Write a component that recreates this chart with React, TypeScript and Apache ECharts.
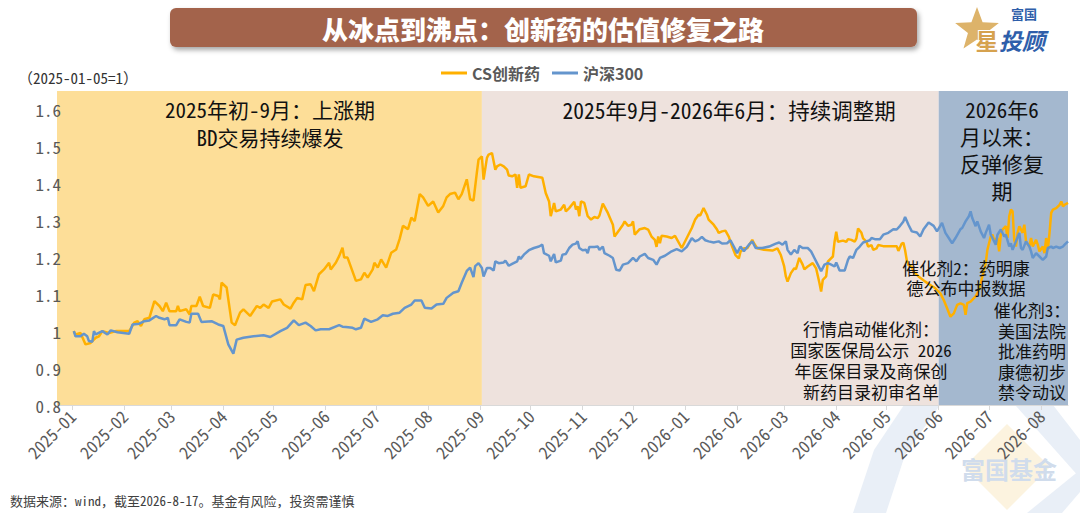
import React, { useEffect, useRef } from 'react';
import * as echarts from 'echarts';

// ---------- data ----------
const csDates = [
  '2025-01-02','2025-01-03','2025-01-06','2025-01-09','2025-01-12','2025-01-15','2025-01-17','2025-01-19','2025-01-23','2025-01-27',
  '2025-02-04','2025-02-07','2025-02-09','2025-02-11','2025-02-13','2025-02-16','2025-02-19','2025-02-22','2025-02-24','2025-02-26','2025-02-28',
  '2025-03-04','2025-03-05','2025-03-06','2025-03-10','2025-03-12','2025-03-13','2025-03-16','2025-03-18','2025-03-20','2025-03-24','2025-03-26','2025-03-29','2025-03-30','2025-03-31',
  '2025-04-03','2025-04-06','2025-04-08','2025-04-11','2025-04-13','2025-04-17','2025-04-21','2025-04-23','2025-04-25','2025-04-28','2025-04-30',
  '2025-05-05','2025-05-07','2025-05-11','2025-05-13','2025-05-15','2025-05-18','2025-05-20','2025-05-23','2025-05-25','2025-05-28','2025-05-31',
  '2025-06-03','2025-06-04','2025-06-07','2025-06-09','2025-06-11','2025-06-12','2025-06-14','2025-06-19','2025-06-22','2025-06-24','2025-06-26','2025-06-29','2025-06-30',
  '2025-07-02','2025-07-04','2025-07-07','2025-07-10','2025-07-13','2025-07-15','2025-07-17','2025-07-20','2025-07-22','2025-07-24','2025-07-27','2025-07-29',
  '2025-08-01','2025-08-04','2025-08-07','2025-08-10','2025-08-12','2025-08-14','2025-08-17','2025-08-19','2025-08-21','2025-08-24','2025-08-26','2025-08-28','2025-08-30','2025-08-31',
  '2025-09-02','2025-09-03','2025-09-05','2025-09-06','2025-09-08','2025-09-10','2025-09-11','2025-09-13','2025-09-15','2025-09-17','2025-09-18','2025-09-20','2025-09-22','2025-09-23','2025-09-24','2025-09-25','2025-09-28','2025-09-30',
  '2025-10-03','2025-10-08','2025-10-10','2025-10-12','2025-10-13','2025-10-15','2025-10-16','2025-10-19','2025-10-21','2025-10-22','2025-10-24','2025-10-27','2025-10-28','2025-10-29','2025-10-30','2025-10-31',
  '2025-11-02','2025-11-04','2025-11-06','2025-11-08','2025-11-10','2025-11-11','2025-11-13','2025-11-16','2025-11-19','2025-11-20','2025-11-23','2025-11-25','2025-11-26','2025-11-28','2025-11-30',
  '2025-12-01','2025-12-02','2025-12-05','2025-12-08','2025-12-10','2025-12-12','2025-12-14','2025-12-15','2025-12-16','2025-12-17','2025-12-18','2025-12-21','2025-12-24','2025-12-26','2025-12-30',
  '2026-01-02','2026-01-05','2026-01-07','2026-01-09','2026-01-10','2026-01-12','2026-01-14','2026-01-15','2026-01-18','2026-01-20','2026-01-21','2026-01-23','2026-01-25','2026-01-27','2026-01-29','2026-01-31',
  '2026-02-02','2026-02-03','2026-02-05','2026-02-07','2026-02-10','2026-02-11','2026-02-13','2026-02-17','2026-02-22','2026-02-25','2026-02-27',
  '2026-03-01','2026-03-02','2026-03-03','2026-03-05','2026-03-07','2026-03-08','2026-03-10','2026-03-12','2026-03-13','2026-03-15','2026-03-18','2026-03-20','2026-03-22','2026-03-23','2026-03-24','2026-03-26','2026-03-27','2026-03-28','2026-03-30','2026-03-31',
  '2026-04-01','2026-04-02','2026-04-05','2026-04-07','2026-04-08','2026-04-10','2026-04-12','2026-04-13','2026-04-14','2026-04-16','2026-04-17','2026-04-19','2026-04-20','2026-04-22','2026-04-23','2026-04-25','2026-04-26','2026-04-29',
  '2026-05-03','2026-05-07','2026-05-08','2026-05-10','2026-05-11','2026-05-12','2026-05-13','2026-05-14','2026-05-16','2026-05-17','2026-05-20','2026-05-24','2026-05-27','2026-05-30',
  '2026-06-02','2026-06-04','2026-06-06','2026-06-08','2026-06-10','2026-06-12','2026-06-14','2026-06-16','2026-06-17','2026-06-18','2026-06-20','2026-06-23','2026-06-25','2026-06-27','2026-06-29','2026-06-30',
  '2026-07-02','2026-07-03','2026-07-04','2026-07-06','2026-07-07','2026-07-08','2026-07-09','2026-07-11','2026-07-12','2026-07-13','2026-07-14','2026-07-15','2026-07-16','2026-07-17','2026-07-18','2026-07-19','2026-07-21','2026-07-22','2026-07-23','2026-07-25','2026-07-26','2026-07-27','2026-07-29','2026-07-30','2026-07-31',
  '2026-08-02','2026-08-03','2026-08-04','2026-08-05','2026-08-06','2026-08-07','2026-08-08','2026-08-10','2026-08-12','2026-08-13','2026-08-14','2026-08-15','2026-08-17',
];
const csValues = [
  1.000,0.991,0.995,0.964,0.968,0.982,0.986,1.000,0.995,1.000,
  1.000,1.023,1.027,1.014,1.032,1.036,1.081,1.068,1.054,1.077,1.054,
  1.054,1.068,1.054,1.059,1.045,1.068,1.068,1.093,1.068,1.063,1.099,1.095,1.086,1.131,
  1.118,1.023,1.016,1.050,1.059,1.041,1.068,1.063,1.072,1.063,1.080,
  1.086,1.072,1.061,1.077,1.090,1.086,1.125,1.127,1.108,1.154,1.167,
  1.185,1.167,1.185,1.203,1.226,1.199,1.199,1.136,1.140,1.158,1.145,1.167,1.185,
  1.172,1.194,1.172,1.212,1.221,1.249,1.285,1.276,1.307,1.298,1.371,1.362,
  1.339,1.351,1.321,1.339,1.362,1.371,1.375,1.357,1.371,1.411,1.357,1.353,1.429,1.464,
  1.473,1.410,1.469,1.478,1.482,1.437,1.446,1.451,1.446,1.437,1.421,1.419,1.424,1.388,1.424,1.388,1.392,1.424,
  1.419,1.415,1.374,1.351,1.311,1.347,1.324,1.329,1.342,1.324,1.333,1.350,1.329,1.338,1.311,1.351,
  1.347,1.311,1.302,1.309,1.306,1.313,1.345,1.320,1.288,1.256,1.275,1.288,1.297,1.285,1.288,
  1.297,1.261,1.276,1.279,1.275,1.256,1.247,1.228,1.256,1.238,1.258,1.256,1.252,1.258,1.225,
  1.252,1.279,1.302,1.315,1.313,1.333,1.315,1.302,1.288,1.275,1.266,1.270,1.272,1.256,1.229,1.206,
  1.197,1.215,1.224,1.224,1.247,1.238,1.224,1.220,1.218,1.224,1.206,
  1.175,1.148,1.134,1.157,1.170,1.168,1.198,1.180,1.167,1.175,1.184,1.170,1.130,1.107,1.139,1.148,1.188,1.193,1.202,1.242,
  1.269,1.242,1.245,1.242,1.249,1.247,1.242,1.251,1.278,1.266,1.251,1.242,1.229,1.233,1.220,1.224,1.233,1.230,
  1.230,1.230,1.217,1.237,1.239,1.219,1.192,1.179,1.174,1.161,1.148,1.134,1.125,1.116,
  1.102,1.084,1.062,1.039,1.048,1.071,1.075,1.071,1.044,1.076,1.080,1.094,1.112,1.148,1.184,1.220,
  1.256,1.261,1.247,1.252,1.216,1.261,1.275,1.284,1.252,1.311,1.329,1.324,1.247,1.229,1.266,1.284,1.266,1.288,1.243,1.229,1.252,1.229,1.247,1.234,1.216,
  1.229,1.211,1.252,1.220,1.266,1.320,1.329,1.333,1.342,1.351,1.338,1.342,1.347,
];

const hsDates = [
  '2025-01-02','2025-01-03','2025-01-06','2025-01-08','2025-01-10','2025-01-11','2025-01-13','2025-01-14','2025-01-15','2025-01-19','2025-01-22','2025-01-24','2025-01-28',
  '2025-02-04','2025-02-06','2025-02-10','2025-02-13','2025-02-16','2025-02-20','2025-02-22','2025-02-25','2025-02-27','2025-02-28',
  '2025-03-04','2025-03-06','2025-03-10','2025-03-12','2025-03-13','2025-03-17','2025-03-19','2025-03-25','2025-03-29',
  '2025-04-01','2025-04-04','2025-04-07','2025-04-09','2025-04-13','2025-04-19','2025-04-25','2025-04-29',
  '2025-05-05','2025-05-09','2025-05-13','2025-05-16','2025-05-20','2025-05-23','2025-05-26','2025-05-29',
  '2025-06-03','2025-06-09','2025-06-11','2025-06-13','2025-06-17','2025-06-19','2025-06-22','2025-06-24','2025-06-28',
  '2025-07-02','2025-07-05','2025-07-08','2025-07-11','2025-07-15','2025-07-18','2025-07-22','2025-07-24','2025-07-28','2025-07-30',
  '2025-08-03','2025-08-06','2025-08-10','2025-08-12','2025-08-16','2025-08-19','2025-08-21','2025-08-24','2025-08-26','2025-08-28','2025-08-29','2025-08-31',
  '2025-09-02','2025-09-03','2025-09-05','2025-09-07','2025-09-09','2025-09-10','2025-09-12','2025-09-15','2025-09-16','2025-09-18','2025-09-20','2025-09-23','2025-09-24','2025-09-25','2025-09-27','2025-09-30',
  '2025-10-03','2025-10-06','2025-10-08','2025-10-09','2025-10-12','2025-10-13','2025-10-15','2025-10-16','2025-10-19','2025-10-20','2025-10-22','2025-10-24','2025-10-26','2025-10-28','2025-10-29','2025-10-30',
  '2025-11-01','2025-11-03','2025-11-04','2025-11-05','2025-11-08','2025-11-10','2025-11-11','2025-11-13','2025-11-14','2025-11-17','2025-11-19','2025-11-21','2025-11-23','2025-11-25','2025-11-28',
  '2025-12-01','2025-12-03','2025-12-05','2025-12-08','2025-12-10','2025-12-13','2025-12-15','2025-12-17','2025-12-20','2025-12-24','2025-12-27','2025-12-30',
  '2026-01-02','2026-01-05','2026-01-07','2026-01-09','2026-01-11','2026-01-13','2026-01-15','2026-01-18','2026-01-21','2026-01-23','2026-01-26','2026-01-28','2026-01-30',
  '2026-02-01','2026-02-03','2026-02-05','2026-02-08','2026-02-10','2026-02-12','2026-02-16','2026-02-20','2026-02-24','2026-02-26','2026-02-28',
  '2026-03-02','2026-03-03','2026-03-05','2026-03-07','2026-03-09','2026-03-10','2026-03-12','2026-03-15','2026-03-17','2026-03-19','2026-03-21','2026-03-23','2026-03-25','2026-03-27','2026-03-29','2026-03-31',
  '2026-04-01','2026-04-03','2026-04-05','2026-04-06','2026-04-08','2026-04-09','2026-04-11','2026-04-13','2026-04-15','2026-04-17','2026-04-19','2026-04-21','2026-04-22','2026-04-24','2026-04-27','2026-04-29',
  '2026-05-02','2026-05-05','2026-05-07','2026-05-09','2026-05-11','2026-05-12','2026-05-14','2026-05-16','2026-05-19','2026-05-21','2026-05-23','2026-05-26','2026-05-29','2026-05-31',
  '2026-06-03','2026-06-05','2026-06-07','2026-06-09','2026-06-11','2026-06-14','2026-06-15','2026-06-17','2026-06-19','2026-06-20','2026-06-21','2026-06-23','2026-06-24','2026-06-26','2026-06-28','2026-06-29',
  '2026-07-01','2026-07-02','2026-07-03','2026-07-05','2026-07-06','2026-07-08','2026-07-10','2026-07-11','2026-07-13','2026-07-14','2026-07-15','2026-07-17','2026-07-19','2026-07-20','2026-07-21','2026-07-23','2026-07-25','2026-07-26','2026-07-27','2026-07-29','2026-07-31',
  '2026-08-02','2026-08-04','2026-08-05','2026-08-07','2026-08-08','2026-08-10','2026-08-12','2026-08-14','2026-08-15','2026-08-17',
];
const hsValues = [
  1.000,0.986,0.986,0.993,0.986,0.973,0.971,1.000,0.991,1.000,0.991,1.002,0.997,
  0.993,1.018,1.020,1.027,1.029,1.041,1.036,1.032,1.036,1.016,
  1.016,1.032,1.025,1.023,1.047,1.047,1.025,1.027,1.018,
  1.014,0.964,0.939,0.977,0.982,0.986,0.989,0.984,
  1.000,1.009,1.029,1.016,1.023,1.014,1.002,1.005,
  1.005,1.016,1.012,1.011,1.009,1.005,1.009,1.034,1.025,
  1.032,1.043,1.041,1.047,1.050,1.063,1.072,1.083,1.083,1.063,
  1.061,1.072,1.074,1.090,1.104,1.108,1.131,1.163,1.172,1.146,1.176,1.184,
  1.171,1.148,1.171,1.171,1.164,1.189,1.184,1.186,1.191,1.177,1.182,1.189,1.202,1.195,1.207,1.219,
  1.225,1.229,1.234,1.211,1.204,1.189,1.209,1.186,1.191,1.207,1.209,1.225,1.234,1.237,1.243,1.225,
  1.219,1.220,1.211,1.228,1.228,1.229,1.220,1.229,1.211,1.204,1.198,1.166,1.164,1.180,1.184,
  1.198,1.189,1.202,1.209,1.198,1.193,1.180,1.198,1.204,1.216,1.222,1.216,
  1.228,1.252,1.243,1.247,1.255,1.246,1.243,1.240,1.243,1.237,1.238,1.246,1.229,
  1.211,1.229,1.216,1.234,1.243,1.225,1.225,1.229,1.237,1.240,1.234,
  1.243,1.220,1.207,1.220,1.211,1.231,1.225,1.225,1.216,1.198,1.180,1.162,1.180,1.184,1.180,1.175,
  1.186,1.164,1.164,1.164,1.193,1.202,1.198,1.220,1.229,1.240,1.243,1.246,1.252,1.249,1.249,1.261,
  1.266,1.276,1.275,1.285,1.297,1.309,1.288,1.270,1.267,1.256,1.276,1.294,1.285,1.270,
  1.293,1.266,1.252,1.238,1.252,1.276,1.279,1.297,1.311,1.324,1.306,1.284,1.297,1.270,1.252,1.266,
  1.288,1.261,1.252,1.234,1.261,1.275,1.256,1.261,1.229,1.238,1.220,1.243,1.266,1.225,1.220,1.243,1.229,1.216,1.198,1.211,1.202,
  1.193,1.202,1.225,1.229,1.225,1.229,1.225,1.229,1.234,1.243,
];

const seriesNames = ['CS创新药', '沪深300'];
const xTickLabels = [
  '2025-01','2025-02','2025-03','2025-04','2025-05','2025-06','2025-07','2025-08','2025-09','2025-10',
  '2025-11','2025-12','2026-01','2026-02','2026-03','2026-04','2026-05','2026-06','2026-07','2026-08',
];
const yTicks = [0.8, 0.9, 1.0, 1.1, 1.2, 1.3, 1.4, 1.5, 1.6];
const axisRange = ['2024-12-23', '2026-08-17'];
const phaseStarts = ['2024-12-23', '2025-09-02', '2026-06-01'];
const phaseEnds = ['2025-09-02', '2026-06-01', '2026-08-17'];

// ---------- styles ----------
const FONT_MONO = "'Noto Sans Mono CJK SC', 'DejaVu Sans Mono', 'Liberation Mono', 'Noto Sans CJK SC', monospace";
const FONT_CJK = "'Noto Sans CJK SC', 'Noto Sans', sans-serif";
const ORANGE = '#FFB000';
const BLUE = '#6495CD';
const PHASE_COLORS = ['#FDDE98', '#EEE2DD', '#A4B8CF'];

const toTs = (s: string) => {
  const [y, m, d] = s.split('-').map(Number);
  return new Date(y, m - 1, d || 1).getTime();
};
const fmtMonth = (v: number) => {
  const d = new Date(v);
  return `${d.getFullYear()}-${String(d.getMonth() + 1).padStart(2, '0')}`;
};

export default function App() {
  const ref = useRef<HTMLDivElement>(null);

  useEffect(() => {
    if (!ref.current) return;
    const chart = echarts.init(ref.current, undefined, { renderer: 'svg' });

    const csData = csDates.map((d, i) => [toTs(d), csValues[i]]);
    const hsData = hsDates.map((d, i) => [toTs(d), hsValues[i]]);
    const monthTicks = xTickLabels.map(toTs);

    const starPts: number[][] = [];
    for (let i = 0; i < 10; i++) {
      const a = -Math.PI / 2 + (i * Math.PI) / 5;
      const r = i % 2 === 0 ? 23 : 9.5;
      starPts.push([977 + r * Math.cos(a), 30 + r * Math.sin(a)]);
    }

    const txt = (x: number, y: number, text: string, size: number, extra: any = {}) => ({
      type: 'text',
      x,
      y,
      z: 100,
      style: {
        text,
        fontSize: size,
        fontFamily: FONT_MONO,
        fill: '#111',
        align: 'center',
        verticalAlign: 'top',
        ...extra,
      },
    });

    const option: any = {
      animation: false,
      backgroundColor: '#ffffff',
      grid: { left: 57, right: 12, top: 91, bottom: 108, containLabel: false },
      legend: {
        data: seriesNames,
        left: 436,
        top: 60,
        icon: 'rect',
        itemWidth: 26,
        itemHeight: 3,
        itemGap: 12,
        selectedMode: false,
        textStyle: { fontSize: 16, fontWeight: 'bold', color: '#595959', fontFamily: FONT_CJK },
      },
      xAxis: {
        type: 'value',
        min: toTs(axisRange[0]),
        max: toTs(axisRange[1]),
        scale: true,
        z: 10,
        axisLine: { show: true, lineStyle: { color: '#D9D9D9', width: 1 } },
        axisTick: {
          show: true,
          length: 5,
          lineStyle: { color: '#D9D9D9' },
          customValues: monthTicks,
        },
        axisLabel: {
          customValues: monthTicks,
          formatter: (v: number) => fmtMonth(v),
          rotate: 45,
          margin: 8,
          fontSize: 17,
          color: '#595959',
          fontFamily: FONT_MONO,
        },
        splitLine: { show: false },
      },
      yAxis: {
        type: 'value',
        min: 0.8,
        max: 1.65,
        z: 10,
        axisLine: { show: false },
        axisTick: { show: false },
        splitLine: { show: false },
        axisLabel: {
          customValues: yTicks,
          formatter: (v: number) => (Math.abs(v - 1) < 1e-9 ? '1' : v.toFixed(1)),
          margin: -4,
          fontSize: 17,
          color: '#595959',
          fontFamily: FONT_MONO,
        },
      },
      series: [
        {
          name: 'phases',
          type: 'line',
          data: [],
          silent: true,
          z: 1,
          markArea: {
            silent: true,
            data: phaseStarts.map((s, i) => [
              { xAxis: toTs(s), itemStyle: { color: PHASE_COLORS[i], opacity: 1 } },
              { xAxis: toTs(phaseEnds[i]) },
            ]),
          },
        },
        {
          name: seriesNames[0],
          type: 'line',
          data: csData,
          showSymbol: false,
          symbol: 'none',
          z: 3,
          lineStyle: { width: 2.5, color: ORANGE },
          itemStyle: { color: ORANGE },
        },
        {
          name: seriesNames[1],
          type: 'line',
          data: hsData,
          showSymbol: false,
          symbol: 'none',
          z: 4,
          lineStyle: { width: 2.5, color: BLUE },
          itemStyle: { color: BLUE },
        },
      ],
      graphic: {
        elements: [
          // watermark
          {
            type: 'polygon', z: -1, silent: true,
            shape: { points: [[853, 513], [886, 513], [905, 455], [940, 405], [904, 405], [874, 450]] },
            style: { fill: '#E9EFF7' },
          },
          {
            type: 'polygon', z: -1, silent: true,
            shape: { points: [[1015, 405], [1053, 405], [1080, 440], [1080, 478]] },
            style: { fill: '#E9EFF7' },
          },
          {
            type: 'polygon', z: -1, silent: true,
            shape: { points: [[1027, 513], [1062, 513], [1080, 492], [1080, 470]] },
            style: { fill: '#E9EFF7' },
          },
          {
            type: 'polygon', z: -1, silent: true,
            shape: { points: [[1007, 424], [1050, 467], [1007, 510], [964, 467]] },
            style: { fill: '#FCF3DF' },
          },
          {
            type: 'text', z: -1, silent: true, x: 1009, y: 468,
            style: { text: '富国基金', fontSize: 24, fontWeight: 'bold', fontFamily: FONT_CJK, fill: '#D0DCEC', align: 'center', verticalAlign: 'middle' },
          },
          // title bar
          {
            type: 'rect', z: 50,
            shape: { x: 170, y: 8, width: 747, height: 39, r: 6 },
            style: { fill: '#A3634B', shadowBlur: 5, shadowOffsetX: 2, shadowOffsetY: 3, shadowColor: 'rgba(0,0,0,0.35)' },
          },
          {
            type: 'text', z: 51, x: 543, y: 28,
            style: {
              text: '从冰点到沸点：创新药的估值修复之路',
              fontSize: 26, fontWeight: 900, fontFamily: FONT_CJK, fill: '#FFFFFF',
              align: 'center', verticalAlign: 'middle',
            },
          },
          // logo
          { type: 'polygon', z: 50, shape: { points: starPts }, style: { fill: '#DDB36A' } },
          {
            type: 'text', z: 51, x: 987, y: 40,
            style: { text: '星', fontSize: 23, fontWeight: 'bold', fontFamily: FONT_CJK, fill: '#D6A24F', stroke: '#FFFFFF', lineWidth: 2, align: 'center', verticalAlign: 'middle' },
          },
          {
            type: 'text', z: 51, x: 999, y: 40,
            style: { text: '投顾', fontSize: 23, fontWeight: 'bold', fontStyle: 'italic', fontFamily: FONT_CJK, fill: '#2E5EAA', align: 'left', verticalAlign: 'middle' },
          },
          {
            type: 'text', z: 51, x: 1011, y: 13,
            style: { text: '富国', fontSize: 13, fontWeight: 'bold', fontFamily: FONT_CJK, fill: '#2E5EAA', align: 'left', verticalAlign: 'middle' },
          },
          // base note
          {
            type: 'text', z: 51, x: 18, y: 77,
            style: { text: '（2025-01-05=1）', fontSize: 15, fontFamily: FONT_MONO, fill: '#333', align: 'left', verticalAlign: 'middle' },
          },
          // phase annotations
          txt(270, 95, '2025年初-9月：上涨期\nBD交易持续爆发', 21, { lineHeight: 28 }),
          txt(729, 95, '2025年9月-2026年6月：持续调整期', 21.5, { lineHeight: 28 }),
          txt(1002, 95, '2026年6\n月以来：\n反弹修复\n期', 21, { lineHeight: 27 }),
          txt(966, 257, '催化剂2：药明康\n德公布中报数据', 17, { lineHeight: 20.5 }),
          txt(1032, 299.5, '催化剂3：\n美国法院\n批准药明\n康德初步\n禁令动议', 17, { lineHeight: 20.5 }),
          txt(871, 318.5, '行情启动催化剂：\n国家医保局公示 2026\n年医保目录及商保创\n新药目录初审名单', 17, { lineHeight: 20.8 }),
          // footer
          {
            type: 'text', z: 51, x: 10, y: 500,
            style: { text: '数据来源：wind，截至2026-8-17。基金有风险，投资需谨慎', fontSize: 13, fontFamily: FONT_MONO, fill: '#404040', align: 'left', verticalAlign: 'middle' },
          },
        ],
      },
    };

    chart.setOption(option);
    return () => chart.dispose();
  }, []);

  return (
    <div
      ref={ref}
      style={{ position: 'fixed', left: 0, top: 0, width: 1080, height: 513, background: '#fff' }}
    />
  );
}
